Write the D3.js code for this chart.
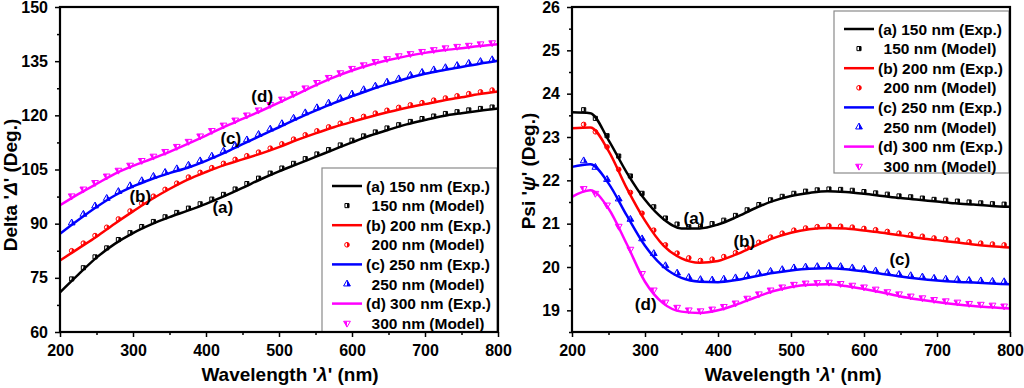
<!DOCTYPE html>
<html><head><meta charset="utf-8">
<script src="https://cdn.jsdelivr.net/npm/d3@7/dist/d3.min.js"></script>
<style>
html,body{margin:0;padding:0;background:#fff;}
text{font-family:"Liberation Sans",Arial,sans-serif;font-weight:bold;fill:#000;}
</style></head>
<body><svg id="chart" width="1024" height="388"></svg>
<script>
// ---------- DATA ----------
const wlExp = [200,225,250,275,300,325,350,375,400,425,450,475,500,525,550,575,600,625,650,675,700,725,750,775,800];
const wlModel = [216,232,248,264,280,296,312,328,344,360,376,392,408,424,440,456,472,488,504,520,536,552,568,584,600,616,632,648,664,680,696,712,728,744,760,776,792];

// Delta (deg) – experimental
const deltaExpA = [71.0,75.9,80.6,84.4,87.4,89.8,91.8,93.6,95.5,97.6,99.9,102.3,104.5,106.5,108.5,110.5,112.5,114.4,116.0,117.5,118.7,119.8,120.6,121.3,121.9];
const deltaExpB = [79.8,83.1,86.4,90.0,93.4,96.7,99.6,102.2,104.3,106.2,107.8,109.4,111.2,113.2,115.0,116.7,118.2,119.6,120.9,122.1,123.1,124.1,125.0,125.9,126.6];
const deltaExpC = [87.2,91.0,94.6,97.8,100.3,102.3,104.0,105.5,107.4,109.6,112.0,114.4,116.7,119.1,121.3,123.4,125.3,127.1,128.7,130.2,131.5,132.5,133.4,134.3,135.1];
const deltaExpD = [95.1,98.2,101.0,103.8,106.0,107.9,109.9,112.1,114.4,116.8,119.0,121.2,123.5,125.9,128.3,130.5,132.4,134.0,135.3,136.4,137.3,138.0,138.6,139.2,139.7];
// Delta (deg) – model
const deltaModA = [74.7,77.8,80.8,83.3,85.6,87.5,89.2,90.6,91.9,93.1,94.3,95.5,96.8,98.1,99.6,101.1,102.6,104.0,105.4,106.7,108.0,109.3,110.5,111.8,113.1,114.3,115.4,116.5,117.4,118.3,119.1,119.8,120.5,121.0,121.5,121.9,122.3];
const deltaModB = [82.5,84.6,86.7,89.0,91.3,93.5,95.6,97.6,99.5,101.2,102.9,104.2,105.5,106.7,107.8,108.8,109.8,110.9,112.1,113.4,114.6,115.7,116.8,117.8,118.8,119.7,120.6,121.4,122.2,122.9,123.5,124.2,124.8,125.4,126.0,126.5,127.0];
const deltaModC = [90.2,92.6,94.9,97.0,98.9,100.5,101.9,103.1,104.2,105.2,106.2,107.4,108.7,110.1,111.6,113.2,114.7,116.2,117.7,119.2,120.7,122.1,123.4,124.7,125.9,127.1,128.1,129.2,130.1,131.1,131.9,132.6,133.2,133.8,134.4,134.9,135.4];
const deltaModD = [97.7,99.6,101.4,103.2,104.8,106.2,107.5,108.7,110.0,111.4,112.8,114.3,115.8,117.3,118.7,120.1,121.5,123.0,124.5,126.0,127.6,129.1,130.5,131.8,133.0,134.0,134.9,135.7,136.5,137.1,137.7,138.2,138.7,139.1,139.4,139.8,140.1];

// Psi (deg) – experimental
const psiExpA = [23.57,23.55,22.93,22.18,21.55,21.11,20.89,20.89,20.98,21.15,21.35,21.52,21.64,21.71,21.75,21.73,21.69,21.64,21.59,21.55,21.51,21.47,21.44,21.41,21.39];
const psiExpB = [23.20,23.22,22.68,21.82,21.07,20.50,20.20,20.10,20.14,20.29,20.48,20.66,20.79,20.87,20.90,20.89,20.84,20.79,20.73,20.67,20.62,20.57,20.52,20.48,20.45];
const psiExpC = [22.31,22.37,21.93,21.19,20.49,20.01,19.75,19.66,19.65,19.70,19.78,19.86,19.92,19.96,19.97,19.95,19.90,19.84,19.78,19.73,19.69,19.66,19.64,19.62,19.60];
const psiExpD = [21.62,21.77,21.35,20.53,19.66,19.16,18.97,18.94,19.00,19.13,19.29,19.44,19.54,19.59,19.60,19.56,19.49,19.41,19.32,19.25,19.19,19.14,19.10,19.07,19.04];
// Psi (deg) – model
const psiModA = [23.63,23.43,23.03,22.56,22.10,21.70,21.39,21.13,20.99,20.93,20.94,21.00,21.08,21.19,21.32,21.44,21.55,21.63,21.70,21.75,21.78,21.80,21.79,21.77,21.74,21.71,21.68,21.64,21.62,21.59,21.56,21.54,21.52,21.50,21.48,21.46,21.45];
const psiModB = [23.29,23.12,22.77,22.25,21.72,21.24,20.85,20.51,20.32,20.21,20.15,20.18,20.24,20.33,20.45,20.57,20.69,20.78,20.85,20.90,20.93,20.95,20.94,20.92,20.89,20.86,20.82,20.78,20.75,20.71,20.67,20.65,20.62,20.58,20.55,20.53,20.51];
const psiModC = [22.45,22.30,22.02,21.57,21.10,20.65,20.31,20.03,19.86,19.76,19.71,19.70,19.72,19.75,19.80,19.85,19.90,19.94,19.98,20.00,20.01,20.02,20.01,19.98,19.95,19.91,19.87,19.83,19.80,19.77,19.74,19.72,19.71,19.69,19.68,19.67,19.66];
const psiModD = [21.81,21.70,21.43,20.94,20.41,19.85,19.47,19.19,19.07,19.01,18.99,19.03,19.09,19.17,19.28,19.38,19.47,19.54,19.60,19.63,19.64,19.65,19.62,19.58,19.54,19.49,19.43,19.38,19.33,19.29,19.25,19.22,19.19,19.16,19.14,19.12,19.10];

const colors = ["#000000","#ff0000","#0000ff","#ff00ff"];
const markerTypes = ["square","circle","triangleUp","triangleDown"];
const legendLabels = ["(a) 150 nm (Exp.)","150 nm (Model)","(b) 200 nm (Exp.)","200 nm (Model)","(c) 250 nm (Exp.)","250 nm (Model)","(d) 300 nm (Exp.)","300 nm (Model)"];
const curveTags = ["(a)","(b)","(c)","(d)"];
const deltaTagPos = [[423,94.6],[310,97.4],[434,113.7],[477,125.1]];
const psiTagPos = [[367,21.12],[436,20.58],[649,20.17],[301,19.13]];
const xTicks = [200,300,400,500,600,700,800];
const xMinor = [250,350,450,550,650,750];
const deltaTicks = [60,75,90,105,120,135,150];
const deltaMinor = [67.5,82.5,97.5,112.5,127.5,142.5];
const psiTicks = [19,20,21,22,23,24,25,26];
const psiMinor = [18.5,19.5,20.5,21.5,22.5,23.5,24.5,25.5];

// ---------- DRAW ----------
const svg = d3.select("#chart");
svg.append("rect").attr("width",1024).attr("height",388).attr("fill","#fff");
const defs = svg.append("defs");
defs.append("clipPath").attr("id","rhalf").attr("clipPathUnits","objectBoundingBox")
  .append("rect").attr("x",0.5).attr("y",0).attr("width",0.5).attr("height",1);

function symbolPath(type){
  if(type==="square") return d3.symbol(d3.symbolSquare,17)();
  if(type==="circle") return d3.symbol(d3.symbolCircle,17)();
  return d3.symbol(d3.symbolTriangle,20)();
}
function drawMarker(g,type,color,cx,cy){
  const rot = type==="triangleDown" ? " rotate(180)" : "";
  const m = g.append("g").attr("transform",`translate(${cx},${cy})${rot}`);
  m.append("path").attr("d",symbolPath(type)).attr("fill","#fff").attr("stroke",color).attr("stroke-width",1);
  m.append("path").attr("d",symbolPath(type)).attr("fill",color).attr("clip-path","url(#rhalf)");
}

function panel(opt){
  const x = d3.scaleLinear().domain([200,800]).range([opt.x0,opt.x1]);
  const y = d3.scaleLinear().domain(opt.ydom).range([opt.y1,opt.y0]);
  const g = svg.append("g");

  const fmt = d3.format("d");
  g.append("g").attr("transform",`translate(0,${opt.y1})`)
    .call(d3.axisBottom(x).tickValues(xMinor).tickSize(3).tickFormat(""))
    .call(s=>{s.select(".domain").remove(); s.selectAll("line").attr("stroke-width",1.5);});
  g.append("g").attr("transform",`translate(0,${opt.y1})`)
    .call(d3.axisBottom(x).tickValues(xTicks).tickSize(5).tickPadding(8).tickFormat(fmt))
    .call(s=>{s.select(".domain").remove(); s.selectAll("line").attr("stroke-width",1.5);
      s.selectAll("text").attr("font-size",16).attr("font-family","Liberation Sans, Arial").attr("font-weight","bold").attr("fill","#000");});
  g.append("g").attr("transform",`translate(${opt.x0},0)`)
    .call(d3.axisLeft(y).tickValues(opt.minor).tickSize(3).tickFormat(""))
    .call(s=>{s.select(".domain").remove(); s.selectAll("line").attr("stroke-width",1.5);});
  g.append("g").attr("transform",`translate(${opt.x0},0)`)
    .call(d3.axisLeft(y).tickValues(opt.ticks).tickSize(5).tickPadding(7).tickFormat(fmt))
    .call(s=>{s.select(".domain").remove(); s.selectAll("line").attr("stroke-width",1.5);
      s.selectAll("text").attr("font-size",16).attr("font-family","Liberation Sans, Arial").attr("font-weight","bold").attr("fill","#000");});

  const lg = g.append("g");
  lg.append("rect").attr("x",opt.leg[0]).attr("y",opt.leg[1]).attr("width",opt.leg[2]).attr("height",opt.leg[3])
    .attr("fill","#fff").attr("stroke","#8a8a8a").attr("stroke-width",1.2);

  const line = d3.line().x(d=>x(d[0])).y(d=>y(d[1])).curve(d3.curveMonotoneX);
  const mg = g.append("g");
  opt.model.forEach((arr,i)=>{
    arr.forEach((v,j)=>drawMarker(mg,markerTypes[i],colors[i],x(wlModel[j]),y(v)));
  });
  opt.exp.forEach((arr,i)=>{
    g.append("path").datum(wlExp.map((w,j)=>[w,arr[j]])).attr("d",line)
      .attr("fill","none").attr("stroke",colors[i]).attr("stroke-width",2.5);
  });

  g.append("rect").attr("x",opt.x0).attr("y",opt.y0).attr("width",opt.x1-opt.x0).attr("height",opt.y1-opt.y0)
    .attr("fill","none").attr("stroke","#000").attr("stroke-width",2.2);

  opt.tags.forEach((p,i)=>{
    g.append("text").attr("x",x(p[0])).attr("y",y(p[1])).attr("text-anchor","middle")
      .attr("dominant-baseline","central").attr("font-size",17).text(curveTags[i]);
  });

  const lx = opt.leg[0], ly0 = opt.leg[1]+18, step = 19.6;
  legendLabels.forEach((lab,k)=>{
    const yy = ly0 + k*step, si = Math.floor(k/2);
    if(k%2===0){
      lg.append("line").attr("x1",lx+10).attr("x2",lx+40).attr("y1",yy).attr("y2",yy)
        .attr("stroke",colors[si]).attr("stroke-width",2.5);
      lg.append("text").attr("x",lx+44).attr("y",yy).attr("dominant-baseline","central")
        .attr("font-size",15.5).text(lab);
    } else {
      drawMarker(lg,markerTypes[si],colors[si],lx+25,yy);
      lg.append("text").attr("x",lx+106).attr("y",yy).attr("text-anchor","middle").attr("dominant-baseline","central")
        .attr("font-size",15.5).text(lab);
    }
  });

  const xt = g.append("text").attr("x",opt.xTitleX).attr("y",381).attr("text-anchor","middle").attr("font-size",19);
  xt.append("tspan").text("Wavelength '");
  xt.append("tspan").attr("font-style","italic").text("λ");
  xt.append("tspan").text("' (nm)");
  const yt = g.append("text").attr("transform",`translate(${opt.yTitle[0]},${opt.yTitle[1]}) rotate(-90)`)
    .attr("text-anchor","middle").attr("font-size",19);
  yt.append("tspan").text(opt.yName+" '");
  yt.append("tspan").attr("font-style","italic").text(opt.yGreek);
  yt.append("tspan").text("' (Deg.)");
}

panel({x0:60,x1:498,y0:7,y1:332,ydom:[60,150],ticks:deltaTicks,minor:deltaMinor,
  exp:[deltaExpA,deltaExpB,deltaExpC,deltaExpD],model:[deltaModA,deltaModB,deltaModC,deltaModD],
  tags:deltaTagPos,leg:[322,168,175,164],xTitleX:290,yTitle:[17,185],yName:"Delta",yGreek:"Δ"});
panel({x0:572,x1:1010,y0:7,y1:332,ydom:[18.5,26],ticks:psiTicks,minor:psiMinor,
  exp:[psiExpA,psiExpB,psiExpC,psiExpD],model:[psiModA,psiModB,psiModC,psiModD],
  tags:psiTagPos,leg:[834,11,175,162],xTitleX:793,yTitle:[535,171],yName:"Psi",yGreek:"ψ"});
</script></body></html>
